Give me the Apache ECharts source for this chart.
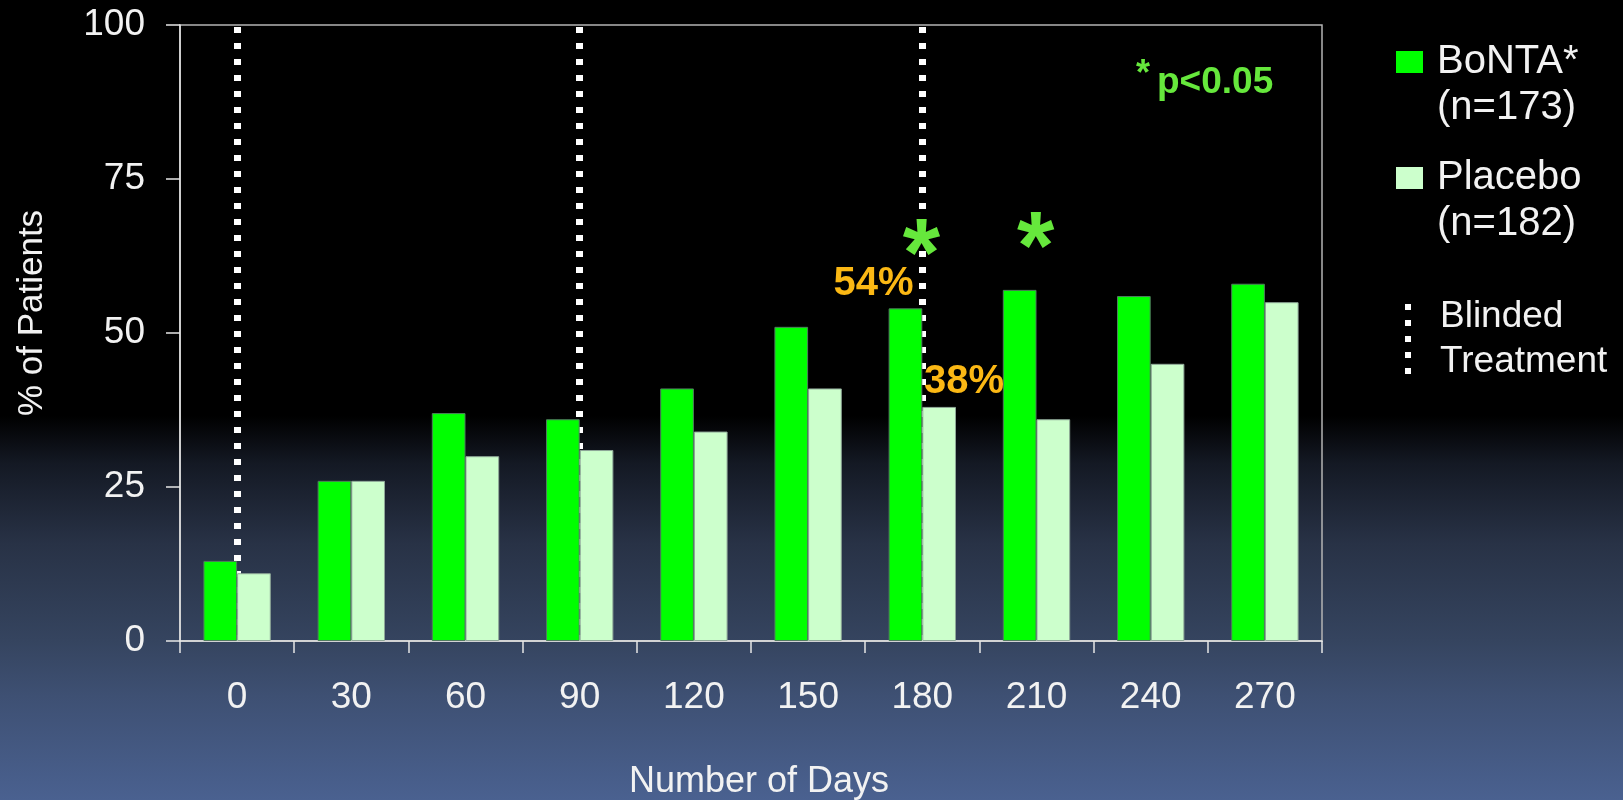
<!DOCTYPE html>
<html>
<head>
<meta charset="utf-8">
<script src="https://cdn.jsdelivr.net/npm/echarts@6/dist/echarts.min.js"></script>
<style>
  html, body { margin: 0; padding: 0; background: #000; }
  #chart { width: 1623px; height: 800px; }
</style>
</head>
<body>
<div id="chart"></div>
<script>
// days after first treatment
const days = ['0', '30', '60', '90', '120', '150', '180', '210', '240', '270'];
// % of patients
const bontaPct = [13, 26, 37, 36, 41, 51, 54, 57, 56, 58];
const placeboPct = [11, 26, 30, 31, 34, 41, 38, 36, 45, 55];
const groupNames = ['BoNTA*', 'Placebo'];
const groupN = [173, 182];
// blinded treatment given at these days
const blindedDays = ['0', '90', '180'];
// significant days (p<0.05)
const sigDays = ['180', '210'];

const font = '"Liberation Sans", Arial, sans-serif';
const white = '#f2f2f2';
const sigGreen = '#66e83c';
const orange = '#fbb814';
const dotPath = 'path://M0,0h6v6h-6z M0,16h6v6h-6z M0,32h6v6h-6z M0,48h6v6h-6z M0,64h6v6h-6z';

let myCharts = echarts.init(document.getElementById('chart'));

function legendFor(name, idx, top, left) {
  return {
    show: true,
    orient: 'vertical',
    left: left,
    top: top,
    padding: 0,
    selectedMode: false,
    icon: 'rect',
    itemWidth: 27,
    itemHeight: 22,
    itemStyle: { borderWidth: 0 },
    data: [name],
    // empty first line keeps the name level with the icon
    formatter: function (n) {
      return '\n' + n + '\n(n=' + groupN[idx] + ')';
    },
    textStyle: {
      color: white,
      fontFamily: font,
      fontSize: 40,
      lineHeight: 46,
      padding: [0, 0, 0, 9]
    }
  };
}

let sigPoints = sigDays.map(function (d) {
  let v = bontaPct[days.indexOf(d)];
  return {
    coord: [d, v],
    label: {
      formatter: '*',
      fontSize: 96,
      fontWeight: 'bold',
      color: sigGreen,
      offset: d === '180' ? [16, -50] : [16, -38]
    }
  };
});

let option = {
  backgroundColor: new echarts.graphic.LinearGradient(0, 0, 0, 1, [
    { offset: 0, color: '#000000' },
    { offset: 0.52, color: '#000000' },
    { offset: 0.58, color: '#141924' },
    { offset: 0.68, color: '#283246' },
    { offset: 0.8, color: '#35445f' },
    { offset: 0.87, color: '#3e5073' },
    { offset: 1, color: '#4a6190' }
  ]),
  animation: false,
  textStyle: { fontFamily: font, color: white },
  grid: {
    left: 180,
    right: 301,
    top: 25,
    bottom: 159,
    show: true,
    borderColor: '#b4b4b4',
    borderWidth: 1.5,
    outerBoundsMode: 'none'
  },
  legend: [
    legendFor(groupNames[0], 0, -7, 1396),
    legendFor(groupNames[1], 1, 109, 1396),
    {
      show: true,
      orient: 'vertical',
      left: 1405,
      top: 294,
      padding: 0,
      selectedMode: false,
      itemWidth: 6,
      itemHeight: 70,
      data: [{ name: 'Blinded Treatment', icon: dotPath, itemStyle: { color: '#ffffff' } }],
      formatter: 'Blinded\nTreatment',
      textStyle: {
        color: white,
        fontFamily: font,
        fontSize: 37,
        lineHeight: 45,
        padding: [0, 0, 0, 24]
      }
    }
  ],
  graphic: [
    {
      type: 'text',
      style: { text: '*', x: 1143, y: 75, fill: sigGreen, font: 'bold 36px ' + font, align: 'center', verticalAlign: 'middle' }
    },
    {
      type: 'text',
      style: { text: 'p<0.05', x: 1157, y: 83, fill: sigGreen, font: 'bold 37px ' + font, align: 'left', verticalAlign: 'middle' }
    }
  ],
  xAxis: {
    type: 'category',
    data: days,
    name: 'Number of Days',
    nameLocation: 'middle',
    nameGap: 123,
    nameTextStyle: { color: white, fontSize: 36, fontFamily: font, padding: [0, 0, 0, 16] },
    axisLine: { lineStyle: { color: '#e6e6e6', width: 1.5 } },
    axisTick: { show: true, length: 12, lineStyle: { color: '#e6e6e6', width: 1.5 } },
    axisLabel: { color: white, fontSize: 37, fontFamily: font, margin: 38 },
    splitLine: { show: false }
  },
  yAxis: {
    type: 'value',
    min: 0,
    max: 100,
    interval: 25,
    name: '% of Patients',
    nameLocation: 'middle',
    nameGap: 130,
    nameTextStyle: { color: white, fontSize: 35, fontFamily: font, padding: [0, 0, 0, 40] },
    axisLine: { show: true, lineStyle: { color: '#e6e6e6', width: 1.5 } },
    axisTick: { show: true, length: 14, lineStyle: { color: '#e6e6e6', width: 1.5 } },
    axisLabel: { color: white, fontSize: 37, fontFamily: font, margin: 35 },
    splitLine: { show: false }
  },
  series: [
    {
      name: 'Blinded Treatment',
      type: 'line',
      data: [],
      z: 1,
      markLine: {
        silent: true,
        z: 1,
        symbol: ['none', 'none'],
        label: { show: false },
        lineStyle: { color: '#ffffff', width: 7, type: [6, 10], opacity: 1 },
        data: blindedDays.map(function (d) { return { xAxis: d }; })
      }
    },
    {
      name: groupNames[0],
      type: 'bar',
      data: bontaPct,
      z: 3,
      barGap: '0%',
      barCategoryGap: '41%',
      itemStyle: { color: '#00ff00', borderColor: '#4f7d5d', borderWidth: 1 },
      markPoint: {
        symbol: 'circle',
        symbolSize: 1,
        itemStyle: { color: 'rgba(0,0,0,0)' },
        label: { show: true, position: 'inside', fontFamily: font },
        data: [
          {
            coord: ['180', bontaPct[6]],
            label: { formatter: bontaPct[6] + '%', fontSize: 40, fontWeight: 'bold', color: orange, offset: [-32, -24] }
          }
        ].concat(sigPoints)
      }
    },
    {
      name: groupNames[1],
      type: 'bar',
      data: placeboPct,
      z: 3,
      barGap: '0%',
      barCategoryGap: '41%',
      itemStyle: { color: '#ccffcc', borderColor: '#8fa898', borderWidth: 1 },
      markPoint: {
        symbol: 'circle',
        symbolSize: 1,
        itemStyle: { color: 'rgba(0,0,0,0)' },
        label: { show: true, position: 'inside', fontFamily: font },
        data: [
          {
            coord: ['180', placeboPct[6]],
            label: { formatter: placeboPct[6] + '%', fontSize: 40, fontWeight: 'bold', color: orange, offset: [25, -25] }
          }
        ]
      }
    }
  ]
};

myCharts.setOption(option);
window.addEventListener('resize', function () {
  myCharts.resize();
});
</script>
</body>
</html>
